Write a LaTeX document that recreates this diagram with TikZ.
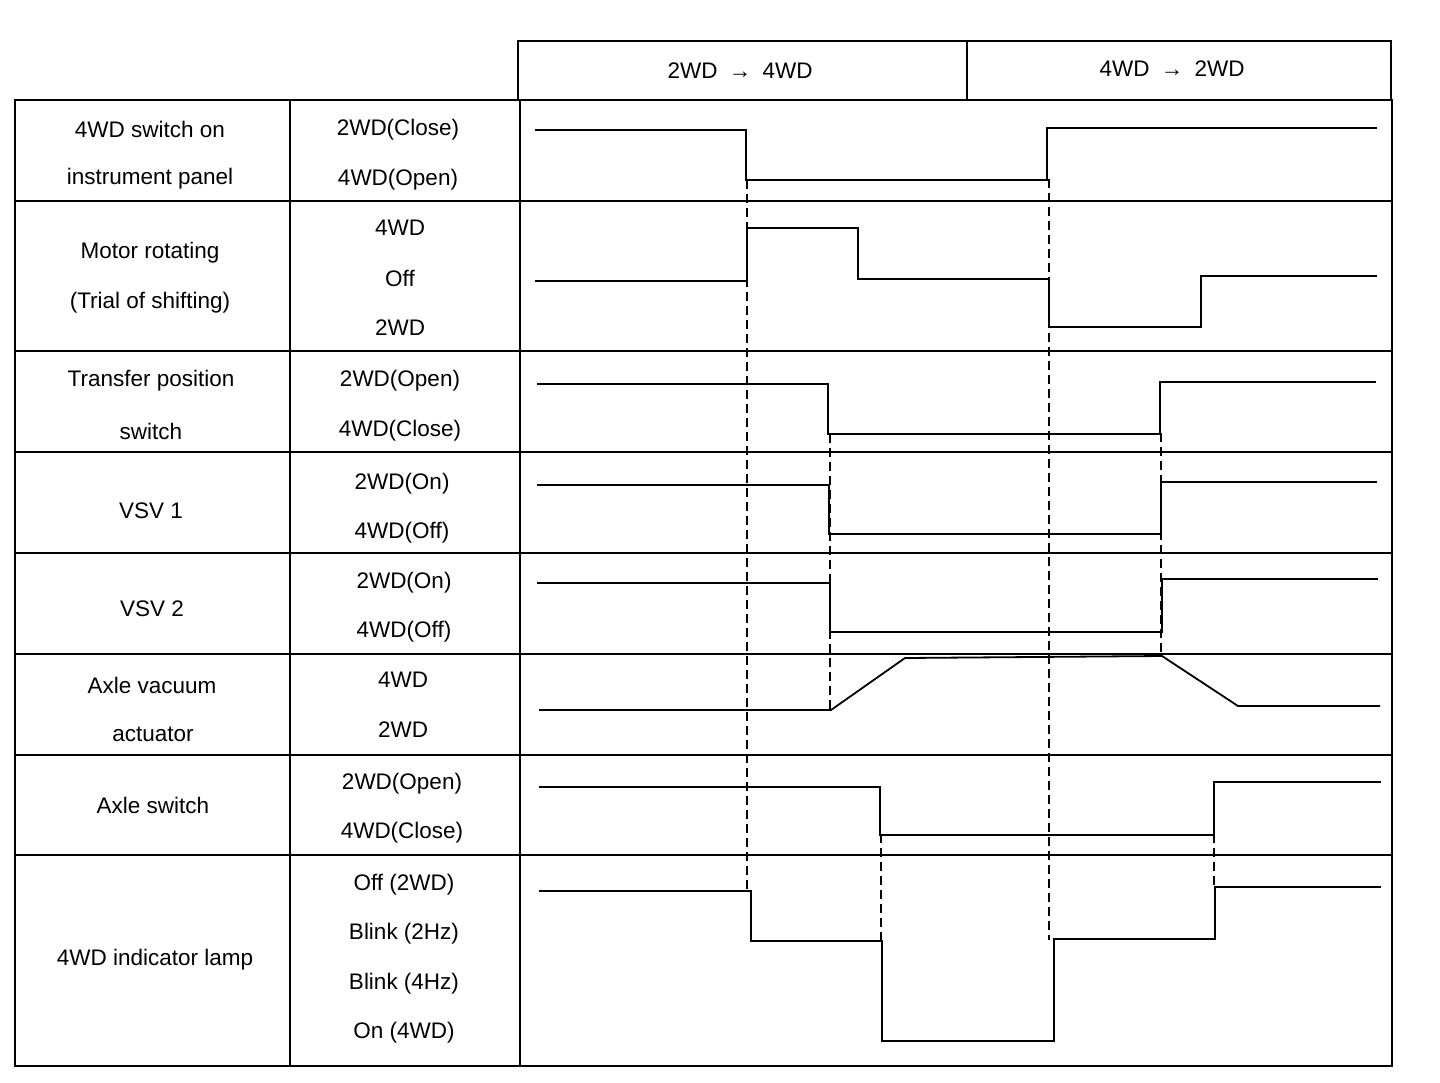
\documentclass[tikz,border=0pt]{standalone}
\usepackage{fontspec}
\setmainfont{Liberation Sans}
\begin{document}
\begin{tikzpicture}[x=1pt,y=-1pt,
  grid/.style={line width=1.5pt},
  wave/.style={line width=1.8pt,line join=miter},
  guide/.style={line width=1.4pt,dash pattern=on 9pt off 5pt},
  lbl/.style={font=\fontsize{22.5}{26}\selectfont,inner sep=0pt,anchor=center}]
\useasboundingbox (0,0) rectangle (1440,1082);
% header box
\draw[grid] (518,41) rectangle (1391,100);
\draw[grid] (967,41) -- (967,100);
\node[lbl] (h1) at (740,71) {2WD\enspace→\enspace4WD};
\node[lbl] (h2) at (1172,69) {4WD\enspace→\enspace2WD};
% table
\draw[grid] (15,100) rectangle (1392,1066);
\foreach \yy in {201,351,452,553,654,755,855}{\draw[grid] (15,\yy) -- (1392,\yy);}
\draw[grid] (290,100) -- (290,1066);
\draw[grid] (520,100) -- (520,1066);
% signal names
\node[lbl] (n1a) at (150,129) {4WD switch on};
\node[lbl] (n1b) at (150,179) {instrument panel};
\node[lbl] (n2a) at (150,253) {Motor rotating};
\node[lbl] (n2b) at (150,303) {(Trial of shifting)};
\node[lbl] (n3a) at (151,381) {Transfer position};
\node[lbl] (n3b) at (151,431) {switch};
\node[lbl] (n4) at (151,511) {VSV 1};
\node[lbl] (n5) at (152,609) {VSV 2};
\node[lbl] (n6a) at (152,685) {Axle vacuum};
\node[lbl] (n6b) at (153,734) {actuator};
\node[lbl] (n7) at (153,805) {Axle switch};
\node[lbl] (n8) at (155,960) {4WD indicator lamp};
% states
\node[lbl] (s1a) at (398,130) {2WD(Close)};
\node[lbl] (s1b) at (398,180) {4WD(Open)};
\node[lbl] (s2a) at (400,228) {4WD};
\node[lbl] (s2b) at (400,278) {Off};
\node[lbl] (s2c) at (400,328) {2WD};
\node[lbl] (s3a) at (400,381) {2WD(Open)};
\node[lbl] (s3b) at (400,431) {4WD(Close)};
\node[lbl] (s4a) at (402,484) {2WD(On)};
\node[lbl] (s4b) at (402,533) {4WD(Off)};
\node[lbl] (s5a) at (404,583) {2WD(On)};
\node[lbl] (s5b) at (404,632) {4WD(Off)};
\node[lbl] (s6a) at (403,680) {4WD};
\node[lbl] (s6b) at (403,730) {2WD};
\node[lbl] (s7a) at (402,784) {2WD(Open)};
\node[lbl] (s7b) at (402,833) {4WD(Close)};
\node[lbl] (s8a) at (404,885) {Off (2WD)};
\node[lbl] (s8b) at (404,934) {Blink (2Hz)};
\node[lbl] (s8c) at (404,984) {Blink (4Hz)};
\node[lbl] (s8d) at (404,1033) {On (4WD)};
% guide lines
\coordinate (gA1) at (747,180);  \coordinate (gA2) at (747,890);
\coordinate (gE1) at (1049,179); \coordinate (gE2) at (1049,940);
\coordinate (gB1) at (830,434);  \coordinate (gB2) at (830,709);
\coordinate (gF1) at (1161,433); \coordinate (gF2) at (1161,656);
\coordinate (gD1) at (881,834);  \coordinate (gD2) at (881,941);
\coordinate (gH1) at (1214,834); \coordinate (gH2) at (1214,888);
\draw[guide] (gA1) -- (gA2);
\draw[guide] (gE1) -- (gE2);
\draw[guide] (gB1) -- (gB2);
\draw[guide] (gF1) -- (gF2);
\draw[guide] (gD1) -- (gD2);
\draw[guide] (gH1) -- (gH2);
% waveforms
\draw[wave] (535,130) -- (746,130) -- (746,180) -- (1047,180) -- (1047,128) -- (1377,128);
\draw[wave] (535,281) -- (747,281) -- (747,228) -- (858,228) -- (858,279) -- (1049,279) -- (1049,327) -- (1201,327) -- (1201,276) -- (1377,276);
\draw[wave] (537,384) -- (828,384) -- (828,434) -- (1160,434) -- (1160,382) -- (1376,382);
\draw[wave] (537,485) -- (829,485) -- (829,534) -- (1161,534) -- (1161,482) -- (1377,482);
\draw[wave] (537,583) -- (830,583) -- (830,632) -- (1162,632) -- (1162,579) -- (1378,579);
\draw[wave] (539,710) -- (831,710) -- (905,658) -- (1162,656) -- (1238,706) -- (1380,706);
\draw[wave] (539,787) -- (880,787) -- (880,835) -- (1214,835) -- (1214,782) -- (1381,782);
\draw[wave] (539,891) -- (751,891) -- (751,941) -- (882,941) -- (882,1041) -- (1054,1041) -- (1054,939) -- (1215,939) -- (1215,887) -- (1381,887);
\end{tikzpicture}
\end{document}
